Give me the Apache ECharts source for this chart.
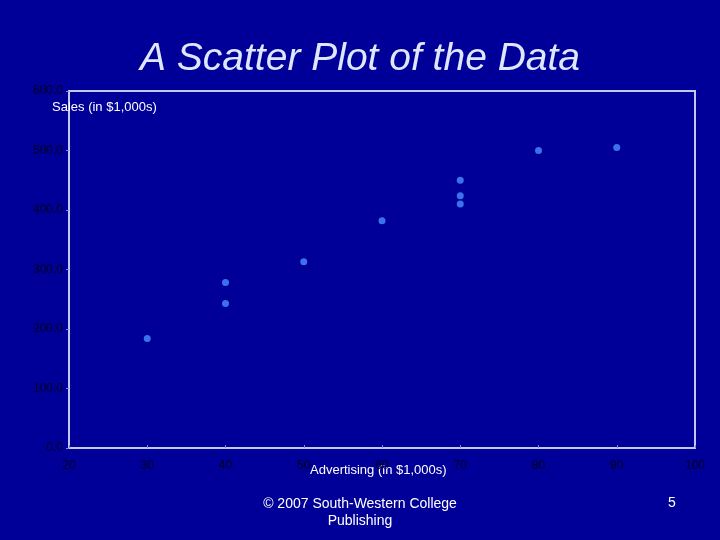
<!DOCTYPE html>
<html><head><meta charset="utf-8">
<script src="https://cdn.jsdelivr.net/npm/echarts@6/dist/echarts.min.js"></script>
<style>html,body{margin:0;padding:0;background:#000099;}#c{width:720px;height:540px;}</style>
</head><body><div id="c"></div>
<script>
const advertising = [30, 40, 40, 50, 60, 70, 70, 70, 80, 90];
const sales = [184, 243, 278, 313, 382, 410, 424, 450, 500, 505];
const xTicks = [20, 30, 40, 50, 60, 70, 80, 90, 100];
const yTicks = [0, 100, 200, 300, 400, 500, 600];

const chart = echarts.init(document.getElementById('c'));
chart.setOption({
  backgroundColor: '#000099',
  animation: false,
  title: {
    text: 'A Scatter Plot of the Data', left: 'center', top: 35,
    textStyle: {color: '#dfe6ff', fontSize: 39, fontStyle: 'italic', fontWeight: 'normal', fontFamily: 'Liberation Sans'}
  },
  graphic: [
    {type: 'text', x: 52, y: 101, style: {text: 'Sales (in $1,000s)', fill: '#ffffff', font: '13px "Liberation Sans"'}},
    {type: 'text', x: 310, y: 464, style: {text: 'Advertising (in $1,000s)', fill: '#ffffff', font: '13px "Liberation Sans"'}},
    {type: 'text', x: 360, y: 496, style: {text: '© 2007 South-Western College\nPublishing', fill: '#ffffff', font: '14px "Liberation Sans"', align: 'center', lineHeight: 17}},
    {type: 'text', x: 668, y: 496, style: {text: '5', fill: '#ffffff', font: '14px "Liberation Sans"'}}
  ],
  grid: {left: 69, right: 25, top: 91, bottom: 92, show: true, borderColor: '#c4c8ee', borderWidth: 2, backgroundColor: 'transparent'},
  xAxis: {
    type: 'value', min: xTicks[0], max: xTicks[xTicks.length - 1], interval: 10,
    axisLine: {show: false},
    axisTick: {show: true, inside: true, length: 3, lineStyle: {color: '#8888cc'}},
    axisLabel: {color: '#000022', fontSize: 12, margin: 12, fontFamily: 'Liberation Sans'},
    splitLine: {show: false}
  },
  yAxis: {
    type: 'value', min: yTicks[0], max: yTicks[yTicks.length - 1], interval: 100,
    axisLine: {show: false},
    axisTick: {show: true, length: 3, lineStyle: {color: '#8888cc'}},
    axisLabel: {color: '#000022', fontSize: 12, margin: 6, fontFamily: 'Liberation Sans', formatter: v => v.toFixed(1)},
    splitLine: {show: false}
  },
  series: [{
    type: 'scatter', symbol: 'circle', symbolSize: 7,
    itemStyle: {color: '#4a8fff'},
    data: advertising.map((a, i) => [a, sales[i]])
  }]
});
</script></body></html>
